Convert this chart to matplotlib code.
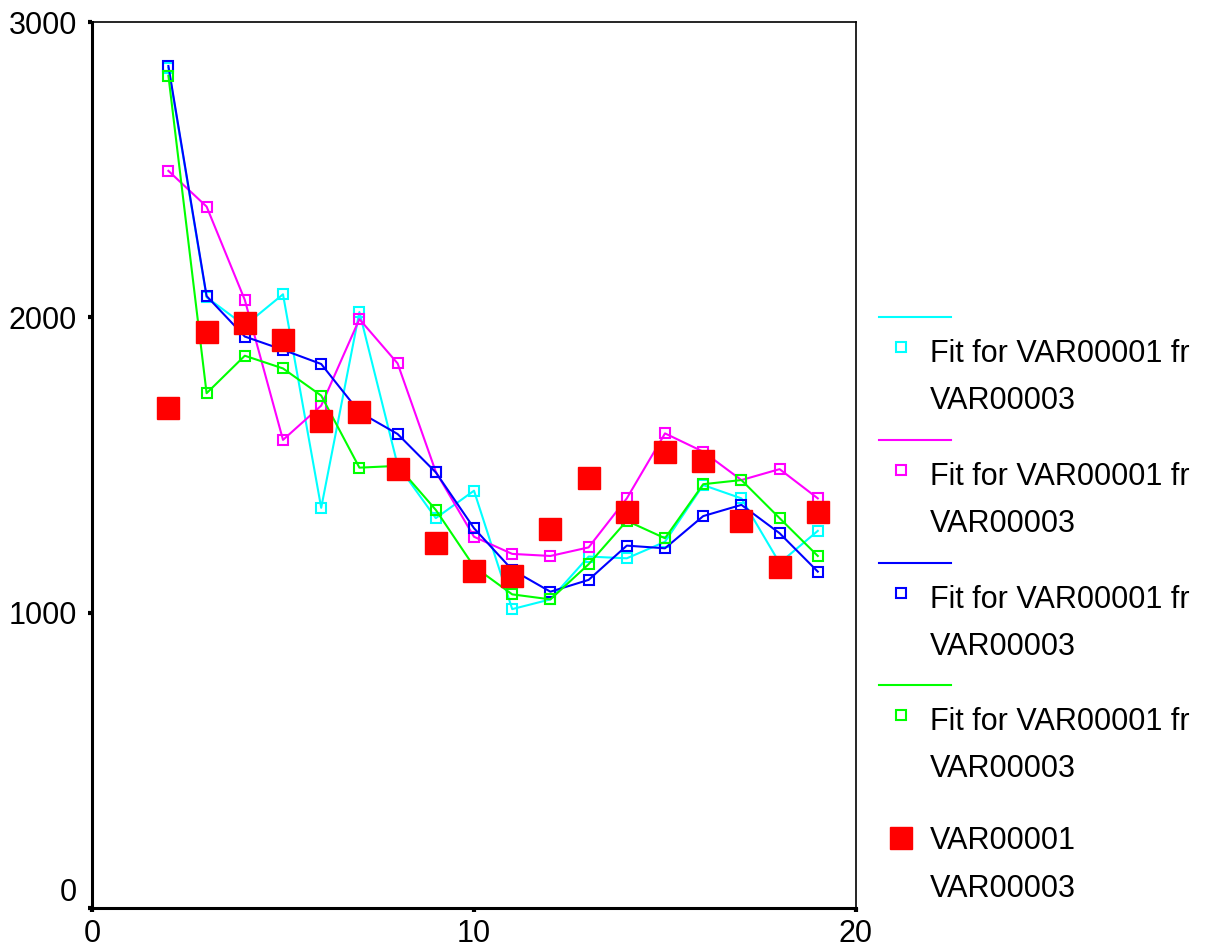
import matplotlib
matplotlib.use("Agg")
import matplotlib.pyplot as plt
from matplotlib.lines import Line2D

plt.rcParams['font.family'] = ['Liberation Sans', 'DejaVu Sans']

# x positions
x = [2, 3, 4, 5, 6, 7, 8, 9, 10, 11, 12, 13, 14, 15, 16, 17, 18, 19]

# values
fit_cyan = [2845, 2068, 1972, 2078, 1355, 2018, 1500, 1320, 1413, 1012, 1045, 1190,
            1184, 1240, 1432, 1387, 1168, 1277]
fit_magenta = [2496, 2375, 2059, 1585, 1701, 1994, 1844, 1477, 1257, 1199, 1192, 1221,
               1387, 1607, 1545, 1449, 1486, 1387]
fit_blue = [2851, 2072, 1935, 1890, 1842, 1679, 1605, 1475, 1286, 1145, 1071, 1111,
            1227, 1218, 1327, 1365, 1269, 1139]
fit_green = [2818, 1743, 1870, 1827, 1735, 1491, 1497, 1348, 1156, 1062, 1045, 1164,
             1311, 1252, 1435, 1449, 1320, 1192]
observed = [1694, 1952, 1980, 1923, 1650, 1679, 1486, 1235, 1141, 1125, 1283, 1457,
            1342, 1543, 1514, 1311, 1156, 1342]

fits = [fit_cyan, fit_magenta, fit_blue, fit_green]
colors = ['#00ffff', '#ff00ff', '#0000ff', '#00ff00']
fit_label = "Fit for VAR00001 fr"
var3 = "VAR00003"

W, H = 1212, 951
FS = 22
fig = plt.figure(figsize=(W / 100, H / 100), dpi=100)
ax = fig.add_axes([92 / W, 1 - 908 / H, (856 - 92) / W, (908 - 22) / H])


def fx(px):
    return px / W


def fy(py):
    return 1 - py / H


for vals, c in zip(fits, colors):
    ax.plot(x, vals, color=c, lw=1.5, marker='s', ms=7, mfc='none', mec=c, mew=1.5)
ax.plot(x, observed, ls='none', marker='s', ms=16.5, color='#ff0000')

ax.set_xlim(0, 20)
ax.set_ylim(0, 3000)
ax.set_xticks([0, 10, 20])
ax.set_yticks([0, 1000, 2000, 3000])
ax.tick_params(length=3, width=3, labelsize=FS)
ax.tick_params(axis='y', pad=8)
ax.tick_params(axis='x', pad=5)
ax.get_yticklabels()[0].set_va('bottom')
for s in ['left', 'bottom']:
    ax.spines[s].set_linewidth(2.2)
for s in ['top', 'right']:
    ax.spines[s].set_linewidth(1.2)

# legend drawn by hand to follow the original layout
line_rows = [317, 440, 563, 685]
for c, ly in zip(colors, line_rows):
    fig.add_artist(Line2D([fx(879), fx(951)], [fy(ly), fy(ly)], color=c, lw=1.5))
    fig.add_artist(Line2D([fx(901)], [fy(ly + 30)], marker='s', ms=7, mfc='none',
                          mec=c, mew=1.5, ls='none'))
    fig.text(fx(930), fy(ly + 37), fit_label, fontsize=FS, va='center', ha='left')
    fig.text(fx(930), fy(ly + 84), var3, fontsize=FS, va='center', ha='left')

fig.add_artist(Line2D([fx(901)], [fy(838)], marker='s', ms=16.5, color='#ff0000', ls='none'))
fig.text(fx(930), fy(841), "VAR00001", fontsize=FS, va='center', ha='left')
fig.text(fx(930), fy(889), var3, fontsize=FS, va='center', ha='left')

fig.savefig('out.png', dpi=100)
